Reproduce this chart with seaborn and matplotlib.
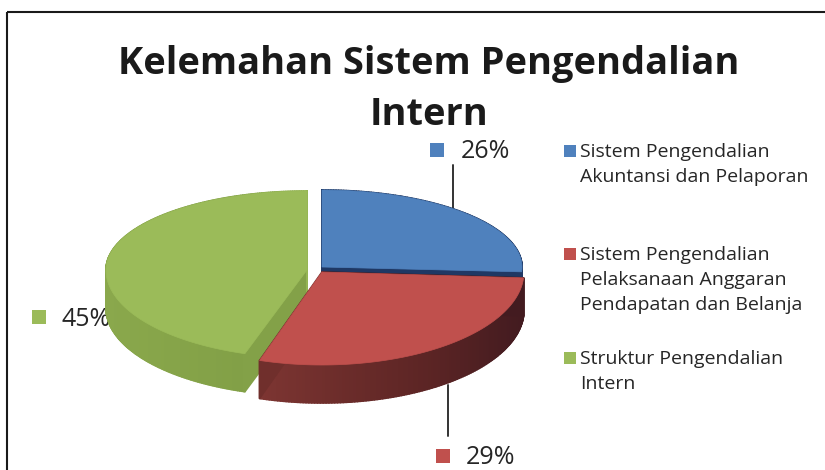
import numpy as np
import matplotlib
matplotlib.use("Agg")
import matplotlib.pyplot as plt
import seaborn as sns
from matplotlib.collections import PolyCollection
from matplotlib.patches import Polygon, Rectangle
from matplotlib.transforms import Affine2D

# DATA
categories = ["Sistem Pengendalian\nAkuntansi dan Pelaporan",
              "Sistem Pengendalian\nPelaksanaan Anggaran\nPendapatan dan Belanja",
              "Struktur Pengendalian\nIntern"]
values = [26, 29, 45]
title = "Kelemahan Sistem Pengendalian\nIntern"

# STYLE
top_colors = ["#4f81bd", "#c0504d", "#9bbb59"]
side_colors = [["#1f3864", "#1f3864"],
               ["#7d3532", "#6b2c2a", "#5a2424", "#431b20"],
               ["#8aa84c", "#86a449", "#82a047", "#94b452"]]
# centre x, centre y, radius x, radius up, radius down
slice_shape = [(322, 267, 200, 77, 77), (322, 272, 202, 93, 93), (307, 270, 201, 79, 88)]
DEPTH = 38
draw_order = [2, 0, 1]
text_color = "#262626"
label_spots = [((437, 150), (461, 152)), ((443, 456), (466, 457)), ((39, 317), (62, 319))]
leaders = [(453, 165, 208), (448, 385, 436)]
legend_y = [152, 255, 359]
LINE_STEP = 25

sns.set_theme(style="white")
plt.rcParams['font.family'] = ['Open Sans', 'DejaVu Sans']

fig = plt.figure(figsize=(8.25, 4.7), dpi=100)
ax = fig.add_axes([0, 0, 1, 1])

wedges, _ = ax.pie(values, startangle=90, counterclock=False, radius=1, colors=top_colors)
# flatten at a big scale so the arcs come out smooth
outlines = [w.get_path().to_polygons(transform=Affine2D().scale(5000))[0] / 5000 for w in wedges]
for w in wedges:
    w.set_visible(False)

ax.set_xlim(0, 825)
ax.set_ylim(470, 0)
ax.set_aspect('auto')
ax.set_axis_off()

# frame round the chart, only top and left fall inside the picture
ax.add_patch(Rectangle((7, 12), 900, 470, fill=False, edgecolor="#1a1a1a", linewidth=1.5))

for i in draw_order:
    cx, cy, rx, up, down = slice_shape[i]
    pts = outlines[i]
    x = cx + rx * pts[:, 0]
    y = cy - pts[:, 1] * np.where(pts[:, 1] > 0, up, down)
    xy = np.column_stack([x, y])

    # side wall, one quad per outline step so the shade can run along x
    quads = [[xy[k], xy[k + 1], xy[k + 1] + (0, DEPTH), xy[k] + (0, DEPTH)] for k in range(len(xy) - 1)]
    shade = sns.blend_palette(side_colors[i], as_cmap=True)
    walls = PolyCollection(quads, cmap=shade, edgecolors='face', linewidths=1.2, zorder=2)
    walls.set_array(np.array([q[0][0] for q in quads]))
    ax.add_collection(walls)
    ax.add_patch(Polygon(xy, closed=True, facecolor=top_colors[i], edgecolor=top_colors[i], linewidth=0.5, zorder=2))

# data labels
for (sq, txt), val, col in zip(label_spots, values, top_colors):
    ax.scatter(*sq, marker='s', s=105, color=col, linewidths=0, zorder=4)
    ax.text(txt[0], txt[1], f"{val}%", fontsize=18, color=text_color, va='center', ha='left', zorder=1)
for lx, y0, y1 in leaders:
    ax.plot([lx, lx], [y0, y1], color="#333333", linewidth=1.4, zorder=1)

# legend, placed by hand because the gaps between entries are uneven
for cat, ly, col in zip(categories, legend_y, top_colors):
    ax.scatter(570, ly - 1, marker='s', s=85, color=col, linewidths=0, zorder=4)
    for n, line in enumerate(cat.split("\n")):
        ax.text(580, ly + n * LINE_STEP, line, fontsize=14, color=text_color, va='center', ha='left')

for n, line in enumerate(title.split("\n")):
    ax.text(429, 64 + n * 51, line, fontsize=27.4, fontweight='bold', color="#1a1a1a", va='center', ha='center')

plt.savefig("out.png", dpi=100)
